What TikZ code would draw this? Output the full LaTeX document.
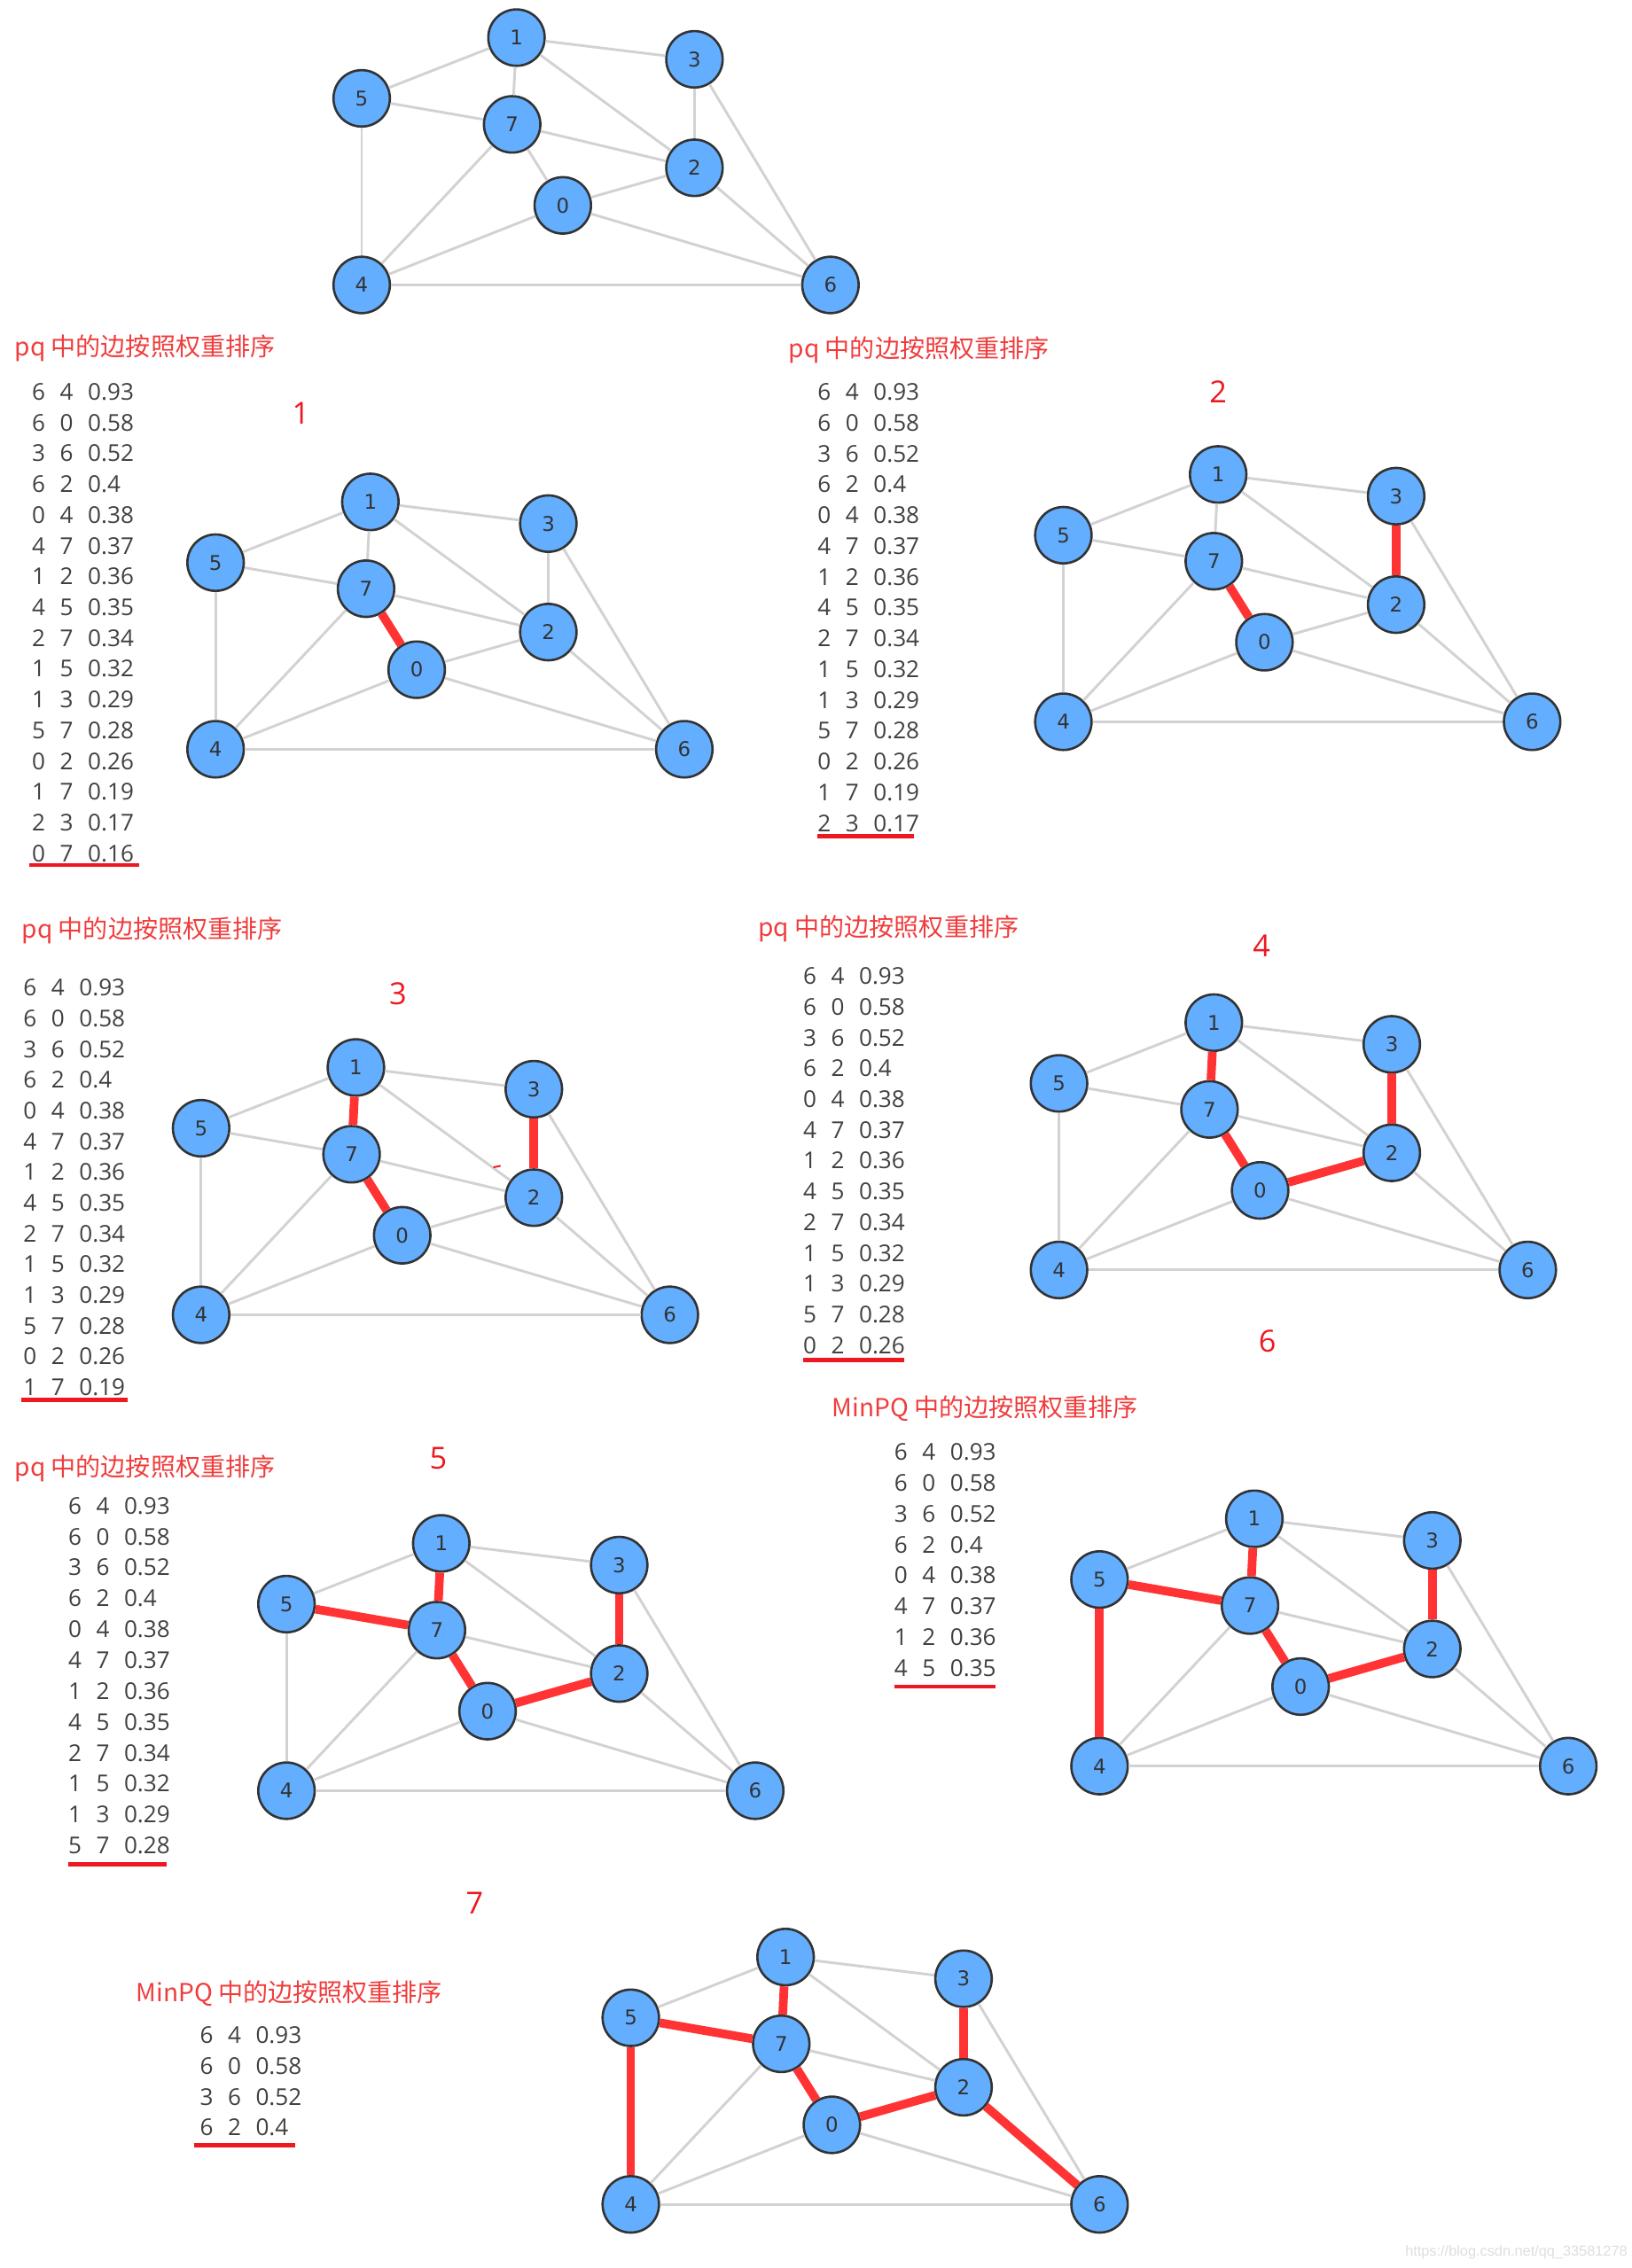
\documentclass[tikz,border=0pt]{standalone}
\usepackage{fontspec}
\setmainfont{Open Sans}
\newfontfamily\cjkfont{Noto Sans CJK SC}
\newfontfamily\vtxfont{DejaVu Sans}
\newfontfamily\wmfont{Liberation Sans}
\definecolor{nodeblue}{RGB}{100,174,255}
\definecolor{edgegray}{RGB}{210,210,210}
\definecolor{mstred}{RGB}{255,51,51}
\definecolor{hdrred}{RGB}{240,60,60}
\definecolor{numred}{RGB}{238,24,32}
\definecolor{txtgray}{RGB}{64,64,64}
\definecolor{wmgray}{RGB}{221,221,221}
\tikzset{
  vtx/.style={circle, draw=black!80, line width=1.6pt, fill=nodeblue, minimum size=39pt,
    inner sep=0pt, font=\vtxfont\fontsize{14}{16}\selectfont, text=black!80},
  gedge/.style={draw=edgegray, line width=1.8pt},
  redge/.style={draw=mstred, line width=6pt},
  hdr/.style={anchor=west, inner sep=0pt, text=hdrred, font=\cjkfont\fontsize{17.2}{20}\selectfont},
  stepnum/.style={inner sep=0pt, text=numred, font=\fontsize{21}{24}\selectfont},
  row/.style={anchor=west, inner sep=0pt, text=txtgray, font=\fontsize{16}{19}\selectfont},
  uline/.style={draw=numred, line width=3pt},
}
\newcommand\drawgraph[3]{%
  \foreach \vn/\dx/\dy in {0/139/55,1/107/171,2/230/81,3/230/156,4/0/0,5/0/129,6/324/0,7/104/111}
    \node[vtx] (#1\vn) at (#2+\dx,#3-\dy) {\vn};
  \foreach \va/\vb in {1/5,1/3,1/7,1/2,5/7,5/4,7/2,7/0,7/4,3/2,3/6,2/0,2/6,0/4,0/6,4/6}
    \draw[gedge] (#1\va) -- (#1\vb);
}
\newcommand\edgelist[5]{%
  \foreach \va/\vb/\vw [count=\vi] in {6/4/0.93,6/0/0.58,3/6/0.52,6/2/0.4,0/4/0.38,4/7/0.37,1/2/0.36,4/5/0.35,2/7/0.34,1/5/0.32,1/3/0.29,5/7/0.28,0/2/0.26,1/7/0.19,2/3/0.17,0/7/0.16}{%
    \ifnum\vi>#4\relax\else
      \node[row] (#1r\vi) at (#2,#3+#5*\vi-#5) {\makebox[19.3pt][l]{\va}\makebox[19.3pt][l]{\vb}\vw};
    \fi}%
}
\begin{document}
\begin{tikzpicture}[x=1pt,y=-1pt]
\useasboundingbox (0,0) rectangle (1128,1568);
% top graph
\drawgraph{a}{250}{197}
% step 1
\drawgraph{b}{149}{518}
\foreach \va/\vb in {7/0} \draw[redge] (b\va) -- (b\vb);
\node[hdr] (h1) at (10,241) {pq 中的边按照权重排序};
\edgelist{l1}{22}{271}{16}{21.27}
\draw[uline] (20,598) -- (96,598);
\node[stepnum] (s1) at (208,286) {1};
% step 2
\drawgraph{c}{735}{499}
\foreach \va/\vb in {7/0,3/2} \draw[redge] (c\va) -- (c\vb);
\node[hdr] (h2) at (545,242) {pq 中的边按照权重排序};
\edgelist{l2}{565}{271}{15}{21.29}
\draw[uline] (565,578) -- (632,578);
\node[stepnum] (s2) at (842,271) {2};
% step 3
\drawgraph{d}{139}{909}
\foreach \va/\vb in {1/7,7/0,3/2} \draw[redge] (d\va) -- (d\vb);
\node[hdr] (h3) at (15,643) {pq 中的边按照权重排序};
\edgelist{l3}{16}{683}{14}{21.23}
\draw[uline] (15,968) -- (88,968);
\node[stepnum] (s3) at (275,687) {3};
\draw[numred, line width=1.2pt] (341,807) -- (346,806);
% step 4
\drawgraph{e}{732}{878}
\foreach \va/\vb in {1/7,7/0,3/2,0/2} \draw[redge] (e\va) -- (e\vb);
\node[hdr] (h4) at (524,642) {pq 中的边按照权重排序};
\edgelist{l4}{555}{675}{13}{21.25}
\draw[uline] (555,940) -- (625,940);
\node[stepnum] (s4) at (872,654) {4};
% step 5
\drawgraph{f}{198}{1238}
\foreach \va/\vb in {1/7,7/0,3/2,0/2,5/7} \draw[redge] (f\va) -- (f\vb);
\node[hdr] (h5) at (10,1015) {pq 中的边按照权重排序};
\edgelist{l5}{47}{1041}{12}{21.36}
\draw[uline] (47,1289) -- (115,1289);
\node[stepnum] (s5) at (303,1008) {5};
% step 6
\drawgraph{g}{760}{1221}
\foreach \va/\vb in {1/7,7/0,3/2,0/2,5/7,5/4} \draw[redge] (g\va) -- (g\vb);
\node[hdr] (h6) at (575,974) {MinPQ 中的边按照权重排序};
\edgelist{l6}{618}{1004}{8}{21.3}
\draw[uline] (618,1166) -- (688,1166);
\node[stepnum] (s6) at (876,927) {6};
% step 7
\drawgraph{h}{436}{1524}
\foreach \va/\vb in {1/7,7/0,3/2,0/2,5/7,5/4,2/6} \draw[redge] (h\va) -- (h\vb);
\node[hdr] (h7) at (94,1378) {MinPQ 中的边按照权重排序};
\edgelist{l7}{138}{1407}{4}{21.33}
\draw[uline] (134,1483) -- (204,1483);
\node[stepnum] (s7) at (328,1316) {7};
% watermark
\node[anchor=east, inner sep=0pt, text=wmgray, font=\wmfont\fontsize{10}{12}\selectfont] (wm) at (1125,1557) {https://blog.csdn.net/qq\_33581278};
\end{tikzpicture}
\end{document}
